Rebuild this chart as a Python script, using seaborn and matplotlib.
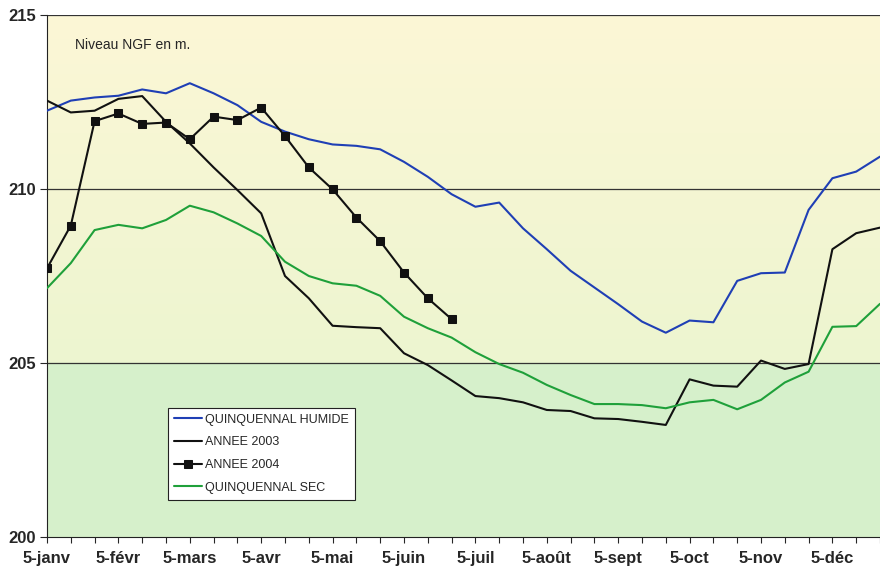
import numpy as np
import pandas as pd
import matplotlib
matplotlib.use("Agg")
import matplotlib.pyplot as plt
import seaborn as sns

# Niveaux NGF (m), un point tous les 10 jours (5, 15, 25 de chaque mois)
humide = [212.25, 212.54, 212.63, 212.68, 212.86, 212.75, 213.04, 212.75, 212.41, 211.93,
          211.65, 211.43, 211.28, 211.24, 211.14, 210.78, 210.35, 209.85, 209.49, 209.61,
          208.87, 208.27, 207.65, 207.17, 206.69, 206.19, 205.87, 206.22, 206.17, 207.36,
          207.58, 207.60, 209.40, 210.31, 210.50, 210.93]
annee_2003 = [212.54, 212.20, 212.25, 212.59, 212.67, 211.93, 211.31, 210.62, 209.97, 209.30,
              207.50, 206.86, 206.07, 206.03, 206.00, 205.28, 204.94, 204.50, 204.05, 203.99,
              203.87, 203.65, 203.62, 203.41, 203.39, 203.31, 203.22, 204.53, 204.35, 204.32,
              205.07, 204.83, 204.97, 208.27, 208.73, 208.89]
annee_2004 = [207.72, 208.95, 211.95, 212.17, 211.87, 211.91, 211.43, 212.08, 211.98, 212.34,
              211.52, 210.62, 209.99, 209.18, 208.50, 207.60, 206.86, 206.26]
sec = [207.15, 207.87, 208.82, 208.97, 208.87, 209.11, 209.52, 209.33, 209.01, 208.65,
       207.91, 207.50, 207.29, 207.22, 206.93, 206.33, 206.00, 205.73, 205.31, 204.97,
       204.72, 204.37, 204.08, 203.82, 203.82, 203.79, 203.70, 203.87, 203.94, 203.67,
       203.94, 204.44, 204.75, 206.04, 206.06, 206.70]
mois = ["5-janv", "5-févr", "5-mars", "5-avr", "5-mai", "5-juin", "5-juil",
        "5-août", "5-sept", "5-oct", "5-nov", "5-déc"]

sns.set_style("white")
plt.rcParams["font.family"] = ["Liberation Sans", "DejaVu Sans"]

fig = plt.figure(figsize=(8.8, 5.75), dpi=100)
ax = fig.add_axes([47 / 880, 38 / 575, 833 / 880, 522 / 575])

# fond : jaune au-dessus de 205, vert en dessous
grad = np.linspace(0, 1, 100).reshape(-1, 1)
cmap = matplotlib.colors.LinearSegmentedColormap.from_list("fond", ["#edf5d0", "#fcf7d6"])
ax.imshow(grad, extent=[-1, 40, 205, 215], origin="lower", aspect="auto", cmap=cmap, zorder=0)
ax.axhspan(200, 205, color="#d6f0cb", zorder=0)

for y in [205, 210, 215]:
    ax.axhline(y, color="#333333", lw=0.9, zorder=1)

x = np.arange(36)
sns.lineplot(x=x, y=humide, ax=ax, color="#1f3fb5", lw=1.5, label="QUINQUENNAL HUMIDE", zorder=3)
sns.lineplot(x=x, y=annee_2003, ax=ax, color="#111111", lw=1.5, label="ANNEE 2003", zorder=3)
sns.lineplot(x=np.arange(len(annee_2004)), y=annee_2004, ax=ax, color="#111111", lw=1.5,
             marker="s", markersize=5.5, markeredgecolor="#111111", label="ANNEE 2004", zorder=4)
sns.lineplot(x=x, y=sec, ax=ax, color="#1fa03a", lw=1.5, label="QUINQUENNAL SEC", zorder=3)

ax.set_xlim(0, 833 / 24.1)
ax.set_ylim(200, 215)
ax.set_yticks([200, 205, 210, 215])
ax.set_yticklabels(["200", "205", "210", "215"], fontsize=12, fontweight="bold")
ax.set_xticks(np.arange(0, 36, 3))
ax.set_xticklabels(mois, fontsize=12, fontweight="bold")
ax.set_xticks(np.arange(36), minor=True)
ax.tick_params(axis="x", which="both", direction="out", length=4, width=0.8, bottom=True, pad=6)
ax.tick_params(axis="y", direction="out", length=5, width=0.8, left=True, pad=3)
for s in ["top", "right"]:
    ax.spines[s].set_visible(False)
ax.spines["left"].set_color("#222222")
ax.spines["bottom"].set_color("#222222")

ax.text(0.034, 0.955, "Niveau NGF en m.", transform=ax.transAxes, fontsize=10, va="top")

leg = ax.legend(loc="lower left", bbox_to_anchor=(0.145, 0.071), borderaxespad=0, fontsize=9,
                frameon=True, fancybox=False, edgecolor="#222222", facecolor="white",
                framealpha=1, handlelength=2.2, handletextpad=0.3, labelspacing=0.85,
                borderpad=0.5)
leg.get_frame().set_linewidth(0.8)

fig.savefig("out.png", dpi=100)
